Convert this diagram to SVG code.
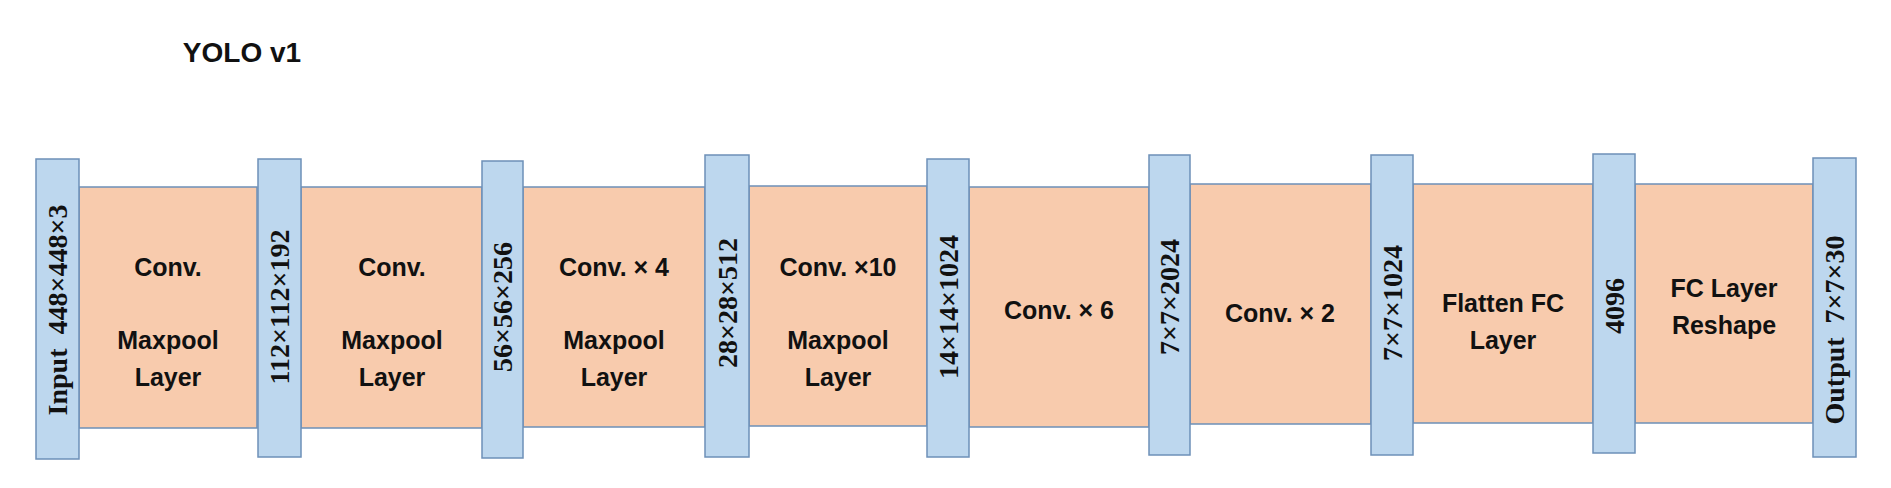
<svg xmlns="http://www.w3.org/2000/svg" width="1891" height="488" viewBox="0 0 1891 488">
<style>
.bar{fill:#bdd7ee;stroke:#6d90b8;stroke-width:1.5}
.blk{fill:#f8cbad;stroke:#6d90b8;stroke-width:1.5}
.t{font-family:"Liberation Sans",Arial,sans-serif;font-weight:bold;font-size:25px;fill:#111;text-anchor:middle}
.v{font-family:"Liberation Serif","Times New Roman",serif;font-weight:bold;font-size:28px;fill:#111;text-anchor:middle;white-space:pre}
</style>
<rect width="1891" height="488" fill="#fff"/>
<text x="242" y="62" class="t" style="font-size:28px">YOLO v1</text>
<g id="blocks">
<g id="b1"><rect class="blk" x="79" y="187" width="178" height="241"/><text class="t" x="168" y="276">Conv.</text><text class="t" x="168" y="349">Maxpool</text><text class="t" x="168" y="386">Layer</text></g>
<g id="b2"><rect class="blk" x="301" y="187" width="181" height="241"/><text class="t" x="392" y="276">Conv.</text><text class="t" x="392" y="349">Maxpool</text><text class="t" x="392" y="386">Layer</text></g>
<g id="b3"><rect class="blk" x="523" y="187" width="182" height="240"/><text class="t" x="614" y="276">Conv. × 4</text><text class="t" x="614" y="349">Maxpool</text><text class="t" x="614" y="386">Layer</text></g>
<g id="b4"><rect class="blk" x="749" y="186" width="178" height="240"/><text class="t" x="838" y="276">Conv. ×10</text><text class="t" x="838" y="349">Maxpool</text><text class="t" x="838" y="386">Layer</text></g>
<g id="b5"><rect class="blk" x="969" y="187" width="180" height="240"/><text class="t" x="1059" y="319">Conv. × 6</text></g>
<g id="b6"><rect class="blk" x="1190" y="184" width="181" height="240"/><text class="t" x="1280" y="322">Conv. × 2</text></g>
<g id="b7"><rect class="blk" x="1413" y="184" width="180" height="239"/><text class="t" x="1503" y="312">Flatten FC</text><text class="t" x="1503" y="349">Layer</text></g>
<g id="b8"><rect class="blk" x="1635" y="184" width="178" height="239"/><text class="t" x="1724" y="297">FC Layer</text><text class="t" x="1724" y="334">Reshape</text></g>
</g>
<g id="bars">
<g id="n1"><rect class="bar" x="36" y="159" width="43" height="300"/><text class="v" transform="translate(67,310) rotate(-90)">Input  448×448×3</text></g>
<g id="n2"><rect class="bar" x="258" y="159" width="43" height="298"/><text class="v" transform="translate(289,307) rotate(-90)">112×112×192</text></g>
<g id="n3"><rect class="bar" x="482" y="161" width="41" height="297"/><text class="v" transform="translate(512,307) rotate(-90)">56×56×256</text></g>
<g id="n4"><rect class="bar" x="705" y="155" width="44" height="302"/><text class="v" transform="translate(737,303) rotate(-90)">28×28×512</text></g>
<g id="n5"><rect class="bar" x="927" y="159" width="42" height="298"/><text class="v" transform="translate(958,307) rotate(-90)">14×14×1024</text></g>
<g id="n6"><rect class="bar" x="1149" y="155" width="41" height="300"/><text class="v" transform="translate(1179,297) rotate(-90)">7×7×2024</text></g>
<g id="n7"><rect class="bar" x="1371" y="155" width="42" height="300"/><text class="v" transform="translate(1402,303) rotate(-90)">7×7×1024</text></g>
<g id="n8"><rect class="bar" x="1593" y="154" width="42" height="299"/><text class="v" transform="translate(1624,306) rotate(-90)">4096</text></g>
<g id="n9"><rect class="bar" x="1813" y="158" width="43" height="299"/><text class="v" transform="translate(1844,330) rotate(-90)">Output  7×7×30</text></g>
</g>
<g id="connectors"/>
</svg>
